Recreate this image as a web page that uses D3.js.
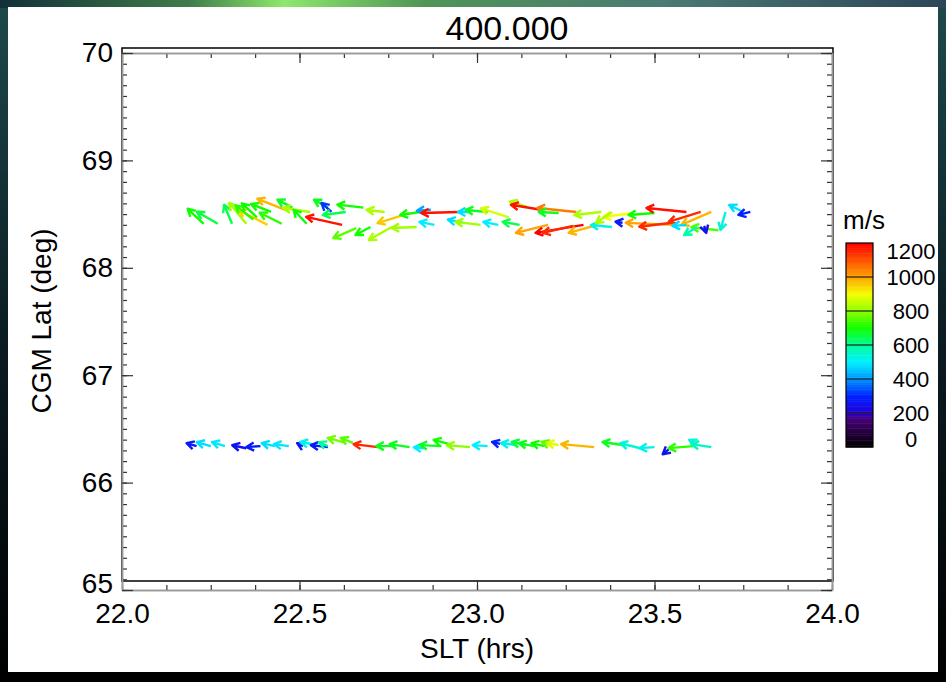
<!DOCTYPE html>
<html>
<head>
<meta charset="utf-8">
<script src="https://cdn.jsdelivr.net/npm/d3@7"></script>
<style>
  body { margin: 0; background: #000; }
  svg text { font-family: "Liberation Sans", Arial, Helvetica, sans-serif; fill: #000; }
</style>
</head>
<body>
<div class="container"></div>
<script>
const w = 946;
const h = 682;

const title = '400.000';
const xTicks = [22.0, 22.5, 23.0, 23.5, 24.0];
const yTicks = [65, 66, 67, 68, 69, 70];
const cbTicks = [0, 200, 400, 600, 800, 1000, 1200];

// upper row of vectors (SLT hrs, CGM lat deg, east / north components m/s, speed m/s)
const upSlt = [22.23, 22.27, 22.31, 22.35, 22.41, 22.37, 22.38, 22.42, 22.46, 22.45, 22.48, 22.53, 22.52, 22.58, 22.59, 22.62,
  22.63, 22.68, 22.74, 22.66, 22.70, 22.76, 22.83, 22.81, 22.84, 22.87, 22.95, 22.98, 23.03, 23.09, 23.14, 23.18, 23.28,
  23.23, 23.35, 23.44, 23.50, 23.59, 23.63, 23.66, 23.75, 23.77, 23.70, 22.88, 22.96, 23.01, 23.06, 23.12, 23.20, 23.30,
  23.27, 23.34, 23.38, 23.38, 23.41, 23.56, 23.55, 23.59, 23.68, 23.62, 23.64];
const upLat = [68.41, 68.41, 68.41, 68.41, 68.40, 68.45, 68.47, 68.52, 68.54, 68.41, 68.56, 68.52, 68.41, 68.56, 68.52, 68.40,
  68.52, 68.56, 68.52, 68.37, 68.38, 68.38, 68.38, 68.51, 68.52, 68.54, 68.52, 68.52, 68.52, 68.47, 68.57, 68.54, 68.52,
  68.51, 68.52, 68.51, 68.51, 68.52, 68.52, 68.52, 68.52, 68.52, 68.52, 68.40, 68.42, 68.40, 68.40, 68.40, 68.40, 68.40,
  68.39, 68.40, 68.38, 68.52, 68.42, 68.40, 68.42, 68.40, 68.35, 68.38, 68.39];
const upVe = [-320, -420, -160, -340, -580, -360, -300, -400, -560, -440, -300, -540, -260, -280, -200, -720,
  -460, -520, -360, -460, -300, -460, -500, -640, -400, -280, -760, -240, -440, -560, -340, -600, -780,
  -400, -540, -600, -520, -800, -640, -600, -280, -240, -100, -300, -300, -500, -300, -340, -640, -960,
  -600, -580, -420, -320, -140, -1000, -660, -280, -540, -260, 40];
const upVn = [300, 240, 380, 420, 300, 280, 280, 160, 220, 220, 160, 80, 280, 160, 180, 160,
  -60, 60, 40, -200, -160, -260, -20, -200, -60, -20, -20, 0, 40, 180, 100, 100, 80,
  20, -60, -80, -40, 80, -200, -260, 140, -60, -360, 60, 60, 60, 60, 60, -160, -160,
  -140, -160, 40, -220, 20, 40, -80, -20, 60, -160, -140];
const upSpd = [700, 660, 650, 820, 950, 720, 700, 700, 980, 720, 680, 830, 700, 680, 320, 1180,
  650, 700, 830, 760, 700, 830, 820, 960, 700, 420, 1180, 480, 680, 870, 830, 1180, 1050,
  680, 830, 900, 700, 1180, 1150, 980, 480, 300, 540, 500, 480, 820, 500, 650, 1000, 1200,
  1150, 980, 520, 830, 280, 1000, 1150, 480, 750, 580, 250];

// lower row of vectors
const lowSlt = [22.21, 22.25, 22.29, 22.35, 22.39, 22.43, 22.47, 22.51, 22.55, 22.58, 22.58, 22.63, 22.65, 22.72, 22.77,
  22.81, 22.85, 22.90, 22.92, 22.98, 23.03, 23.065, 23.11, 23.14, 23.16, 23.19, 23.21, 23.23, 23.33, 23.41, 23.46,
  23.50, 23.54, 23.61, 23.62, 23.66];
const lowLat = [66.34, 66.34, 66.34, 66.32, 66.34, 66.34, 66.34, 66.34, 66.35, 66.33, 66.34, 66.37, 66.37, 66.33, 66.34,
  66.33, 66.32, 66.34, 66.36, 66.33, 66.34, 66.36, 66.35, 66.35, 66.34, 66.34, 66.35, 66.35, 66.33, 66.35, 66.32,
  66.33, 66.31, 66.34, 66.36, 66.33];
const lowVe = [-200, -280, -260, -280, -280, -260, -300, -120, -340, -340, -180, -360, -240, -480, -380,
  -400, -200, -440, -300, -460, -300, -160, -300, -300, -300, -260, -200, -240, -660, -400, -400,
  -300, -120, -500, -160, -400];
const lowVn = [60, 80, 80, 60, -20, 60, 40, 60, 60, 40, 80, 100, 100, 60, 0,
  60, 20, 20, 80, 40, 20, 40, 40, 60, 60, 60, 60, 40, 60, 60, 100,
  -20, -100, -40, 80, 60];
const lowSpd = [280, 480, 490, 250, 280, 480, 490, 270, 520, 280, 600, 780, 760, 1150, 680,
  680, 500, 680, 700, 800, 500, 300, 520, 660, 680, 700, 760, 880, 980, 680, 540,
  520, 250, 720, 540, 560];

const colorStops = [0, 170, 200, 300, 400, 500, 600, 700, 800, 900, 1000, 1100, 1200];
const colorList = ['#000000', '#48007a', '#2400d8', '#0020ff', '#0094ff', '#00f0ff', '#00ff9a', '#10ff00',
  '#8cff00', '#f4ff00', '#ffa400', '#ff5200', '#ff0000'];

const upper = upSlt.map((s, i) => ({slt: s, lat: upLat[i], ve: upVe[i], vn: upVn[i], spd: upSpd[i]}));
const lower = lowSlt.map((s, i) => ({slt: s, lat: lowLat[i], ve: lowVe[i], vn: lowVn[i], spd: lowSpd[i]}));
const vectors = upper.concat(lower);

const svg = d3.select('.container').append('svg')
  .attr('width', w)
  .attr('height', h)
  .style('display', 'block');

// slide background around the white panel
const defs = svg.append('defs');
const topGrad = defs.append('linearGradient').attr('id', 'topgrad');
[[0, '#123038'], [0.2, '#3f7c4a'], [0.3, '#8ee86c'], [0.45, '#4f9456'], [0.7, '#4a7a74'], [1, '#2c4658']]
  .forEach(d => topGrad.append('stop').attr('offset', d[0]).attr('stop-color', d[1]));
const sideGrad = defs.append('linearGradient').attr('id', 'sidegrad')
  .attr('x1', 0).attr('x2', 0).attr('y1', 0).attr('y2', 1);
[[0, '#1d4a4a'], [0.5, '#0b1c22'], [1, '#000000']]
  .forEach(d => sideGrad.append('stop').attr('offset', d[0]).attr('stop-color', d[1]));

svg.append('rect').attr('width', w).attr('height', h).attr('fill', 'url(#sidegrad)');
svg.append('rect').attr('width', w).attr('height', 8).attr('fill', 'url(#topgrad)');
svg.append('rect').attr('x', 8).attr('y', 7).attr('width', 930).attr('height', 665).attr('fill', '#fff');

const x = d3.scaleLinear().domain([22, 24]).range([122, 832]);
const y = d3.scaleLinear().domain([65, 70]).range([590, 53]);
const vs = d3.scaleLinear().domain([0, 1000]).range([0, 50]);
const color = d3.scaleLinear().domain(colorStops).range(colorList).clamp(true);

const chart = svg.append('g');

// frame
chart.append('rect')
  .attr('x', 122).attr('y', 48)
  .attr('width', 711).attr('height', 533)
  .attr('fill', 'none')
  .attr('stroke', '#000')
  .attr('stroke-width', 1.5);

const xMinor = d3.range(22, 24.001, 0.125);
const yMinor = d3.range(65, 70.001, 0.1);

function styleAxis(g) {
  g.select('.domain').attr('stroke', '#999').attr('stroke-width', 1.5);
  g.selectAll('.tick line').attr('stroke', '#333').attr('stroke-width', 1.2);
}

chart.append('g').attr('transform', 'translate(0,590)')
  .call(d3.axisBottom(x).tickValues(xMinor).tickSize(-5).tickFormat('').tickSizeOuter(0)).call(styleAxis);
chart.append('g').attr('transform', 'translate(0,590)')
  .call(d3.axisBottom(x).tickValues(xTicks).tickSize(-10).tickPadding(13).tickFormat(d3.format('.1f')).tickSizeOuter(0))
  .call(styleAxis)
  .selectAll('text').style('font-size', '28px').attr('fill', '#000');
chart.append('g').attr('transform', 'translate(0,53)')
  .call(d3.axisTop(x).tickValues(xMinor).tickSize(-5).tickFormat('').tickSizeOuter(0)).call(styleAxis);
chart.append('g').attr('transform', 'translate(0,53)')
  .call(d3.axisTop(x).tickValues(xTicks).tickSize(-10).tickFormat('').tickSizeOuter(0)).call(styleAxis);

chart.append('g').attr('transform', 'translate(122,0)')
  .call(d3.axisLeft(y).tickValues(yMinor).tickSize(-5).tickFormat('').tickSizeOuter(0)).call(styleAxis);
const yAxisG = chart.append('g').attr('transform', 'translate(122,0)')
  .call(d3.axisLeft(y).tickValues(yTicks).tickSize(-11).tickPadding(9).tickFormat(d3.format('d')).tickSizeOuter(0))
  .call(styleAxis);
yAxisG.selectAll('text').style('font-size', '28px').attr('fill', '#000')
  .attr('dy', d => d === 65 ? '0.1em' : '0.32em');
chart.append('g').attr('transform', 'translate(832,0)')
  .call(d3.axisRight(y).tickValues(yMinor).tickSize(-5).tickFormat('').tickSizeOuter(0)).call(styleAxis);
chart.append('g').attr('transform', 'translate(832,0)')
  .call(d3.axisRight(y).tickValues(yTicks).tickSize(-11).tickFormat('').tickSizeOuter(0)).call(styleAxis);

// titles
chart.append('text')
  .attr('x', 507).attr('y', 40)
  .attr('text-anchor', 'middle')
  .style('font-size', '34px')
  .text(title);

chart.append('text')
  .attr('x', 477).attr('y', 658)
  .attr('text-anchor', 'middle')
  .style('font-size', '28px')
  .text('SLT (hrs)');

chart.append('text')
  .attr('transform', 'translate(51,321) rotate(-90)')
  .attr('text-anchor', 'middle')
  .style('font-size', '28px')
  .text('CGM Lat (deg)');

// vectors
function arrowPath(d) {
  const x0 = x(d.slt), y0 = y(d.lat);
  const x1 = x0 + vs(d.ve), y1 = y0 - vs(d.vn);
  const a = Math.atan2(y1 - y0, x1 - x0);
  const hl = 8.5, ha = 0.5;
  const bx1 = x1 - hl * Math.cos(a - ha), by1 = y1 - hl * Math.sin(a - ha);
  const bx2 = x1 - hl * Math.cos(a + ha), by2 = y1 - hl * Math.sin(a + ha);
  return `M${x0},${y0}L${x1},${y1}M${bx1},${by1}L${x1},${y1}L${bx2},${by2}`;
}

chart.append('g').selectAll('path')
  .data(vectors)
  .enter()
  .append('path')
  .attr('d', arrowPath)
  .attr('fill', 'none')
  .attr('stroke', d => color(d.spd))
  .attr('stroke-width', 2.4)
  .attr('stroke-linejoin', 'round');

// colour bar
const cb = d3.scaleLinear().domain([0, 1200]).range([447, 243]);
const cbG = svg.append('g');
cbG.selectAll('rect.step')
  .data(d3.range(0, 1200, 10))
  .enter()
  .append('rect')
  .attr('x', 846)
  .attr('y', d => cb(d + 10))
  .attr('width', 27)
  .attr('height', d => cb(d) - cb(d + 10) + 0.5)
  .attr('fill', d => color(d + 5));
cbG.selectAll('line')
  .data(cbTicks.slice(1, -1))
  .enter()
  .append('line')
  .attr('x1', 846).attr('x2', 873)
  .attr('y1', d => cb(d)).attr('y2', d => cb(d))
  .attr('stroke', '#222').attr('stroke-width', 1.2);
cbG.append('rect')
  .attr('x', 846).attr('y', 243).attr('width', 27).attr('height', 204)
  .attr('fill', 'none').attr('stroke', '#000').attr('stroke-width', 1.2);
cbG.selectAll('text.lab')
  .data(cbTicks)
  .enter()
  .append('text')
  .attr('x', 911)
  .attr('y', d => Math.min(Math.max(cb(d), 251), 439))
  .attr('dy', '0.36em')
  .attr('text-anchor', 'middle')
  .style('font-size', '22px')
  .text(d => d);
cbG.append('text')
  .attr('x', 864).attr('y', 229)
  .attr('text-anchor', 'middle')
  .style('font-size', '26px')
  .text('m/s');
</script>
</body>
</html>
